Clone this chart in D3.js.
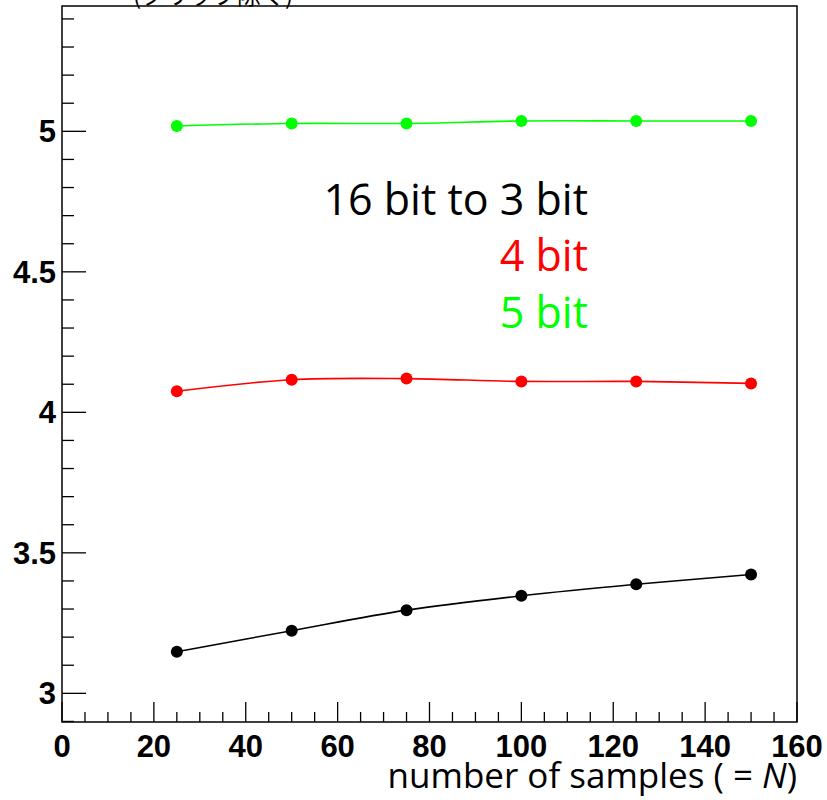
<!DOCTYPE html>
<html>
<head>
<meta charset="utf-8">
<script src="https://cdn.jsdelivr.net/npm/d3@7"></script>
<style>
  body { margin: 0; background: #fff; }
</style>
</head>
<body>
<svg id="chart"></svg>
<script>
// samples N
const samples = [25, 50, 75, 100, 125, 150];
// effective bits for each source depth
const bits3 = [3.148, 3.223, 3.296, 3.347, 3.388, 3.423];
const bits4 = [4.075, 4.116, 4.120, 4.110, 4.110, 4.103];
const bits5 = [5.019, 5.028, 5.028, 5.037, 5.037, 5.037];

const seriesNames = ["16 bit to 3 bit", "4 bit", "5 bit"];
const seriesColors = ["#000000", "#ff0000", "#00ff00"];
const seriesValues = [bits3, bits4, bits5];

const xTicks = [0, 20, 40, 60, 80, 100, 120, 140, 160];
const yTicks = [3, 3.5, 4, 4.5, 5];

const width = 827, height = 800;
const plot = {left: 62, right: 797, top: 6, bottom: 722};

const svg = d3.select("#chart")
    .attr("width", width)
    .attr("height", height);

const x = d3.scaleLinear().domain([0, 160]).range([plot.left, plot.right]);
const y = d3.scaleLinear().domain([2.898, 5.446]).range([plot.bottom, plot.top]);

// y-axis title, only its lower edge shows at the top of the picture
svg.append("text")
    .attr("x", 133)
    .attr("y", 4)
    .attr("font-family", "'Noto Sans CJK JP'")
    .attr("font-size", 24)
    .text("(クリップ除く)");

// frame
svg.append("rect")
    .attr("x", plot.left)
    .attr("y", plot.top)
    .attr("width", plot.right - plot.left)
    .attr("height", plot.bottom - plot.top)
    .attr("fill", "none")
    .attr("stroke", "#000")
    .attr("stroke-width", 1.5);

// x ticks (inside, pointing up)
const xMinor = d3.range(0, 161, 5);
svg.append("g")
  .selectAll("line")
  .data(xMinor)
  .join("line")
    .attr("x1", d => x(d))
    .attr("x2", d => x(d))
    .attr("y1", plot.bottom)
    .attr("y2", d => plot.bottom - (d % 20 === 0 ? 20 : 10))
    .attr("stroke", "#000")
    .attr("stroke-width", 1.3);

// y ticks (inside, pointing right)
const yMinor = d3.range(29, 55).map(d => d / 10);
svg.append("g")
  .selectAll("line")
  .data(yMinor)
  .join("line")
    .attr("x1", plot.left)
    .attr("x2", d => plot.left + (Math.round(d * 10) % 5 === 0 ? 24 : 12))
    .attr("y1", d => y(d))
    .attr("y2", d => y(d))
    .attr("stroke", "#000")
    .attr("stroke-width", 1.3);

// tick labels
svg.append("g")
    .attr("font-family", "'Liberation Sans', Arial, sans-serif")
    .attr("font-weight", "bold")
    .attr("font-size", 31)
    .attr("text-anchor", "middle")
  .selectAll("text")
  .data(xTicks)
  .join("text")
    .attr("x", d => x(d))
    .attr("y", 757)
    .text(d => d);

svg.append("g")
    .attr("font-family", "'Liberation Sans', Arial, sans-serif")
    .attr("font-weight", "bold")
    .attr("font-size", 31)
    .attr("text-anchor", "end")
  .selectAll("text")
  .data(yTicks)
  .join("text")
    .attr("x", 56)
    .attr("y", d => y(d) + 11)
    .text(d => d);

// x-axis title
const xt = svg.append("text")
    .attr("x", 797)
    .attr("y", 788)
    .attr("text-anchor", "end")
    .attr("font-family", "'Open Sans', sans-serif")
    .attr("font-size", 35);
xt.append("tspan").text("number of samples ( = ");
xt.append("tspan").attr("font-style", "italic").text("N");
xt.append("tspan").text(")");

// series lines and markers
const line = d3.line()
    .x((d, i) => x(samples[i]))
    .y(d => y(d))
    .curve(d3.curveCatmullRom.alpha(0.5));

seriesValues.forEach((vals, k) => {
  svg.append("path")
      .datum(vals)
      .attr("d", line)
      .attr("fill", "none")
      .attr("stroke", seriesColors[k])
      .attr("stroke-width", 1.6);

  svg.append("g")
    .selectAll("circle")
    .data(vals)
    .join("circle")
      .attr("cx", (d, i) => x(samples[i]))
      .attr("cy", d => y(d))
      .attr("r", 6)
      .attr("fill", seriesColors[k]);
});

// legend text
const legendY = [215, 271, 328];
svg.append("g")
    .attr("font-family", "'Open Sans', sans-serif")
    .attr("font-size", 43)
    .attr("text-anchor", "end")
  .selectAll("text")
  .data(seriesNames)
  .join("text")
    .attr("x", 588)
    .attr("y", (d, i) => legendY[i])
    .attr("fill", (d, i) => seriesColors[i])
    .text(d => d);
</script>
</body>
</html>
